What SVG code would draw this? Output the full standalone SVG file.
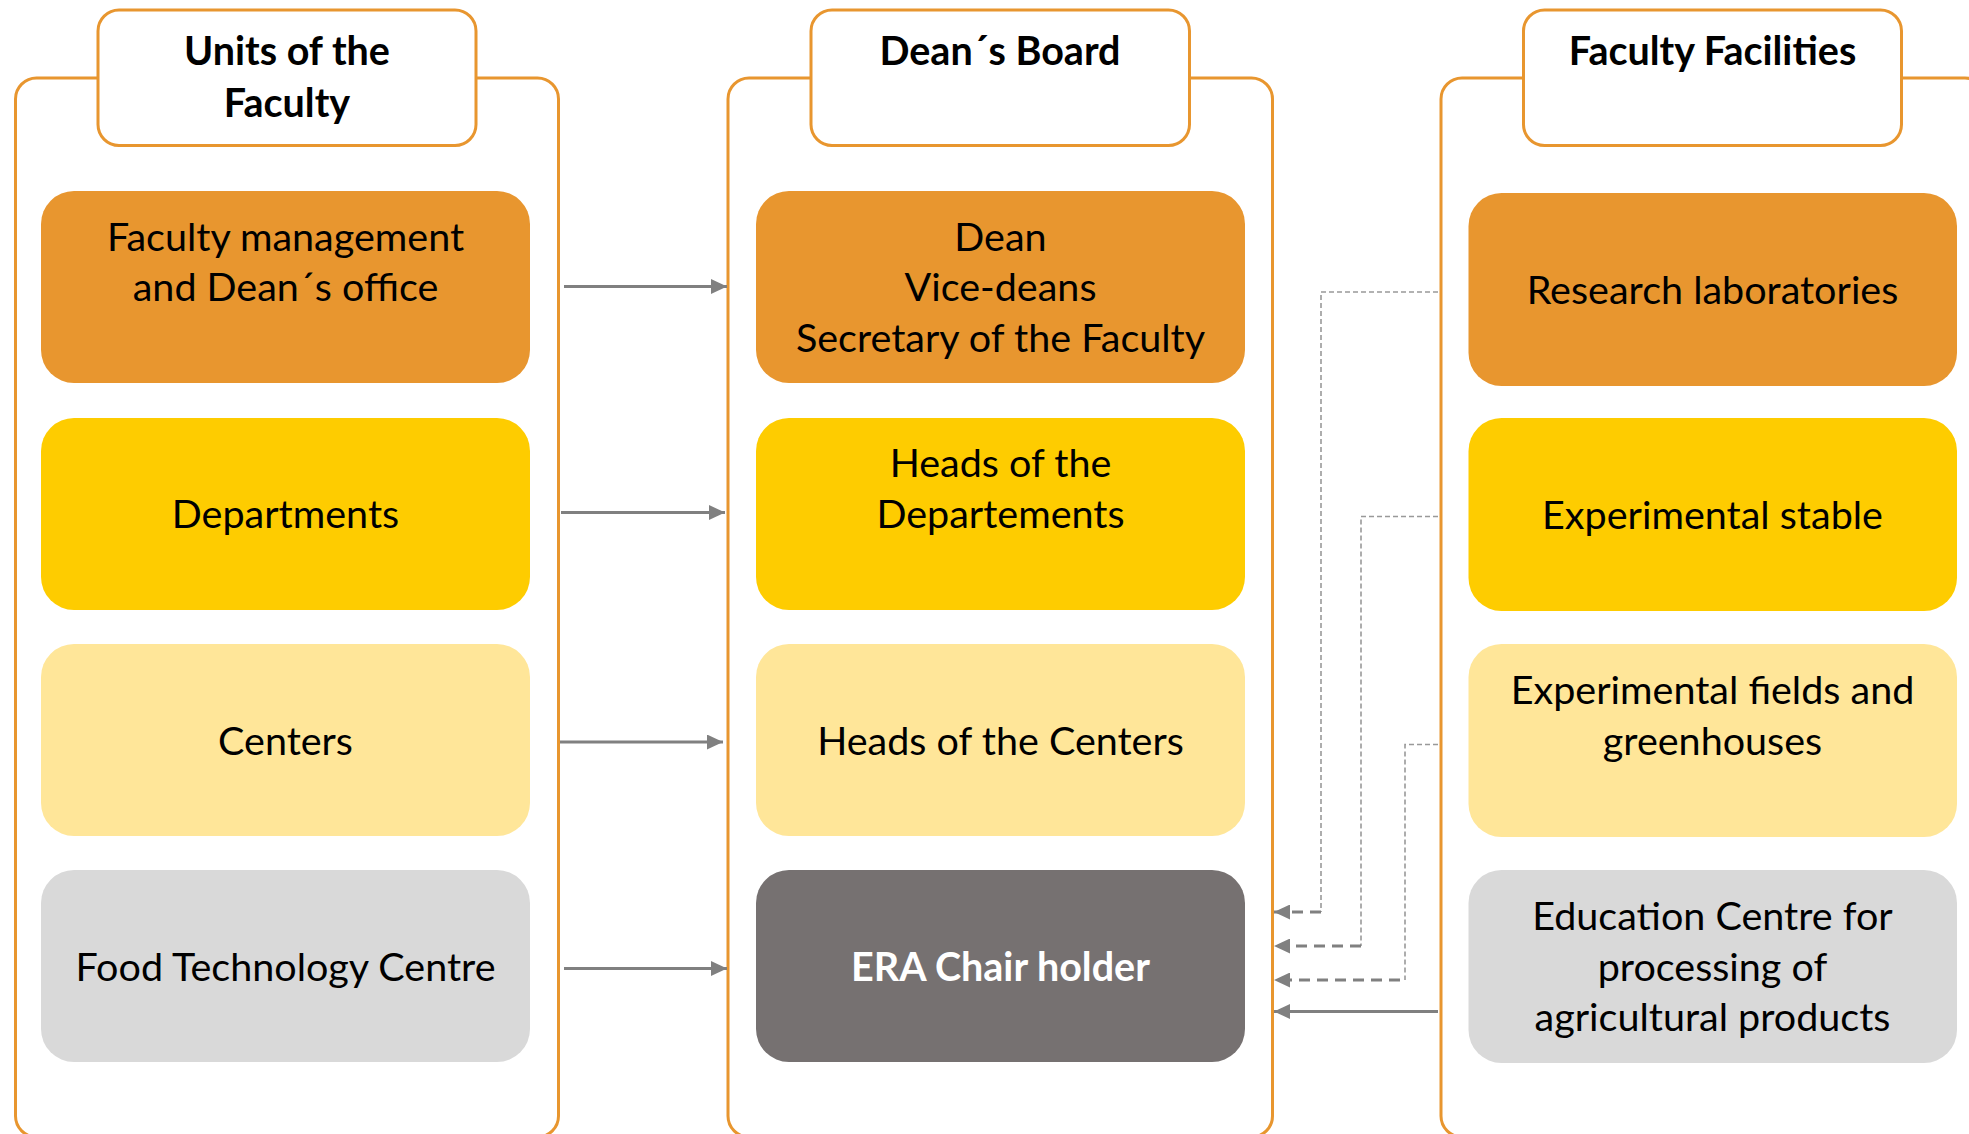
<svg xmlns="http://www.w3.org/2000/svg" width="1969" height="1134" viewBox="0 0 1969 1134">
<style>
.frame{fill:none;stroke:#E8962F;stroke-width:3}
.hdr{fill:#FFFFFF;stroke:#E8962F;stroke-width:3}
.t{font-family:Lato,"Open Sans",sans-serif;font-size:39.5px;fill:#000;text-anchor:middle}
.h{font-family:Lato,"Open Sans",sans-serif;font-size:39.5px;font-weight:bold;fill:#000;text-anchor:middle}
.w{font-family:Lato,"Open Sans",sans-serif;font-size:39.5px;font-weight:bold;fill:#FFF;text-anchor:middle}
.c1{fill:#E8962F}.c2{fill:#FECC00}.c3{fill:#FFE699}.c4{fill:#D9D9D9}.c5{fill:#767171}
.sol{fill:none;stroke:#808080;stroke-width:2.8}
.thin{fill:none;stroke:#999999;stroke-width:1.6;stroke-dasharray:5 3}
.thick{fill:none;stroke:#808080;stroke-width:3;stroke-dasharray:11 7}
</style>
<defs>
<marker id="ah" viewBox="0 0 16 15" refX="16" refY="7.5" markerWidth="16" markerHeight="15" markerUnits="userSpaceOnUse" orient="auto">
<path d="M0,0 L16,7.5 L0,15 Z" fill="#808080"/>
</marker>
</defs>
<rect width="1969" height="1134" fill="#FFFFFF"/>

<g id="panel-units">
<rect class="frame" x="15.5" y="78" width="543" height="1059" rx="21"/>
<rect class="hdr" x="98" y="10" width="378" height="135.5" rx="21"/>
<text class="h" x="287" y="65">Units of the</text>
<text class="h" x="287" y="117">Faculty</text>
</g>
<g id="panel-deans-board">
<rect class="frame" x="728" y="78" width="544.5" height="1059" rx="21"/>
<rect class="hdr" x="811" y="10" width="378.5" height="135.5" rx="21"/>
<text class="h" x="1000" y="65">Dean´s Board</text>
</g>
<g id="panel-facilities">
<rect class="frame" x="1441" y="78" width="545" height="1059" rx="21"/>
<rect class="hdr" x="1523.5" y="10" width="378" height="135.5" rx="21"/>
<text class="h" x="1712.5" y="65">Faculty Facilities</text>
</g>

<g id="node-faculty-management">
<rect class="c1" x="41" y="191" width="489" height="192" rx="33"/>
<text class="t" x="285.5" y="250.5">Faculty management</text>
<text class="t" x="285.5" y="301">and Dean´s office</text>
</g>
<g id="node-departments">
<rect class="c2" x="41" y="418" width="489" height="192" rx="33"/>
<text class="t" x="285.5" y="528">Departments</text>
</g>
<g id="node-centers">
<rect class="c3" x="41" y="644" width="489" height="192" rx="33"/>
<text class="t" x="285.5" y="755">Centers</text>
</g>
<g id="node-food-technology">
<rect class="c4" x="41" y="870" width="489" height="192" rx="33"/>
<text class="t" x="285.5" y="981">Food Technology Centre</text>
</g>

<g id="node-dean">
<rect class="c1" x="756" y="191" width="489" height="192" rx="33"/>
<text class="t" x="1000.5" y="250.5">Dean</text>
<text class="t" x="1000.5" y="301">Vice-deans</text>
<text class="t" x="1000.5" y="352">Secretary of the Faculty</text>
</g>
<g id="node-heads-departments">
<rect class="c2" x="756" y="418" width="489" height="192" rx="33"/>
<text class="t" x="1000.5" y="476.5">Heads of the</text>
<text class="t" x="1000.5" y="528">Departements</text>
</g>
<g id="node-heads-centers">
<rect class="c3" x="756" y="644" width="489" height="192" rx="33"/>
<text class="t" x="1000.5" y="755">Heads of the Centers</text>
</g>
<g id="node-era-chair">
<rect class="c5" x="756" y="870" width="489" height="192" rx="33"/>
<text class="w" x="1000.5" y="981">ERA Chair holder</text>
</g>

<g id="node-research-labs">
<rect class="c1" x="1468.5" y="193" width="488.5" height="193" rx="33"/>
<text class="t" x="1712.5" y="304">Research laboratories</text>
</g>
<g id="node-experimental-stable">
<rect class="c2" x="1468.5" y="418" width="488.5" height="193" rx="33"/>
<text class="t" x="1712.5" y="529">Experimental stable</text>
</g>
<g id="node-experimental-fields">
<rect class="c3" x="1468.5" y="644" width="488.5" height="193" rx="33"/>
<text class="t" x="1712.5" y="703.5">Experimental fields and</text>
<text class="t" x="1712.5" y="755">greenhouses</text>
</g>
<g id="node-education-centre">
<rect class="c4" x="1468.5" y="870" width="488.5" height="193" rx="33"/>
<text class="t" x="1712.5" y="930">Education Centre for</text>
<text class="t" x="1712.5" y="981">processing of</text>
<text class="t" x="1712.5" y="1031">agricultural products</text>
</g>

<g id="connectors">
<line class="sol" x1="564" y1="286.5" x2="727" y2="286.5" marker-end="url(#ah)"/>
<line class="sol" x1="561" y1="512.5" x2="725" y2="512.5" marker-end="url(#ah)"/>
<line class="sol" x1="560" y1="742" x2="723" y2="742" marker-end="url(#ah)"/>
<line class="sol" x1="564" y1="968.5" x2="727" y2="968.5" marker-end="url(#ah)"/>

<polyline class="thin" points="1438,292 1321,292 1321,912"/>
<line class="thick" x1="1321" y1="912" x2="1274" y2="912" marker-end="url(#ah)"/>
<polyline class="thin" points="1438,516.5 1361,516.5 1361,946"/>
<line class="thick" x1="1361" y1="946" x2="1274" y2="946" marker-end="url(#ah)"/>
<polyline class="thin" points="1438,744.5 1405,744.5 1405,980"/>
<line class="thick" x1="1400" y1="980" x2="1274" y2="980" marker-end="url(#ah)"/>
<line class="sol" x1="1438" y1="1011.5" x2="1274" y2="1011.5" marker-end="url(#ah)"/>
</g>
</svg>
